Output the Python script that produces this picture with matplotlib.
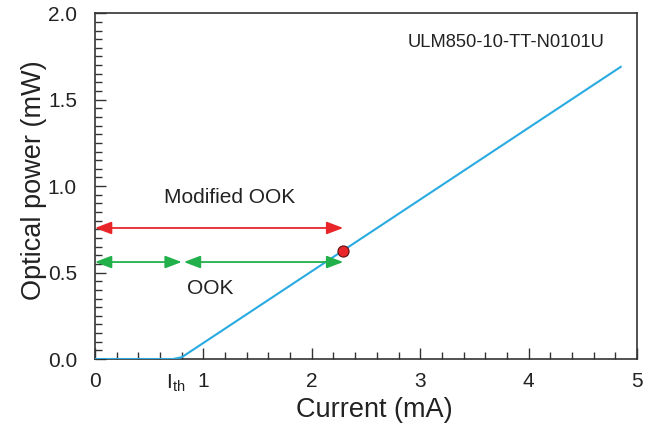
import matplotlib
matplotlib.use("Agg")
import matplotlib.pyplot as plt
from matplotlib.ticker import MultipleLocator
import matplotlib.transforms as mtransforms

plt.rcParams['font.family'] = ['Liberation Sans', 'DejaVu Sans']

# Data
current = [0.0, 0.72, 0.80, 4.85]
power = [0.0, 0.0, 0.01, 1.69]
op_point_x = [2.29]
op_point_y = [0.625]
i_th = 0.80
i_op = 2.29
mod_ook_y = 0.758
ook_y = 0.561
xticks = [0, 1, 2, 3, 4, 5]
yticks = [0.0, 0.5, 1.0, 1.5, 2.0]

blue = '#29abe2'
red = '#e8262a'
green = '#22b04b'
txt = '#222222'

fig = plt.figure(figsize=(6.56, 4.28), dpi=100)
ax = fig.add_axes([0.1448, 0.1612, 0.971 - 0.1448, 0.969 - 0.1612])

ax.plot(current, power, color=blue, lw=1.5, zorder=3)
ax.plot(op_point_x, op_point_y, 'o', color=red, mec='#5a1010', mew=0.8, ms=8, zorder=5)

def arrow(x0, x1, y, c):
    ax.annotate('', xy=(x1, y), xytext=(x0, y),
                arrowprops=dict(arrowstyle='<|-|>,head_length=1.0,head_width=0.38',
                                color=c, lw=1.3, shrinkA=0, shrinkB=0), zorder=4)

arrow(0.0, i_op, mod_ook_y, red)
arrow(0.0, i_th, ook_y, green)
arrow(i_th + 0.02, i_op, ook_y, green)

ax.text(1.24, 0.937, 'Modified OOK', ha='center', va='center', fontsize=15, color=txt)
ax.text(1.06, 0.405, 'OOK', ha='center', va='center', fontsize=15, color=txt)
ax.text(3.79, 1.83, 'ULM850-10-TT-N0101U', ha='center', va='center', fontsize=13.2, color=txt)

ax.set_xlim(0, 5)
ax.set_ylim(0, 2.0)
ax.set_xticks(xticks)
ax.set_yticks(yticks)
ax.set_yticklabels(['0.0', '0.5', '1.0', '1.5', '2.0'])
ax.xaxis.set_minor_locator(MultipleLocator(0.2))
ax.yaxis.set_minor_locator(MultipleLocator(0.05))
ax.tick_params(which='both', direction='in', top=False, right=False, colors='#333333',
               labelcolor=txt, labelsize=15)
ax.tick_params(which='major', length=8, width=1.0)
ax.tick_params(which='minor', length=5, width=1.0)
ax.tick_params(axis='x', pad=9)
ax.tick_params(axis='y', pad=13)

trans = mtransforms.blended_transform_factory(ax.transData, ax.transAxes)
ax.text(0.74, -0.0385, r'I$_{\mathregular{th}}$', transform=trans, ha='center', va='top',
        fontsize=15, color=txt)

for s in ax.spines.values():
    s.set_color('#333333')
    s.set_linewidth(1.2)

ax.set_xlabel('Current (mA)', fontsize=19.5, color=txt, labelpad=5)
ax.set_ylabel('Optical power (mW)', fontsize=19.5, color=txt, labelpad=0.5)
ax.xaxis.label.set_x(0.515)
ax.yaxis.label.set_y(0.517)

fig.savefig('out.png', dpi=100)
